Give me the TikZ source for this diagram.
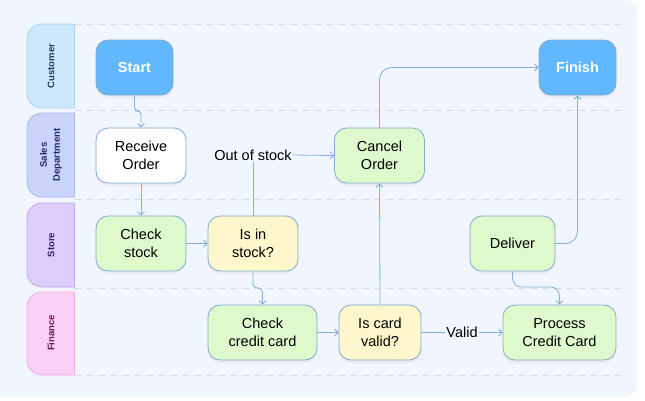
\documentclass[tikz,border=0pt]{standalone}
\usepackage{fontspec}
\setmainfont{Liberation Sans}
\usetikzlibrary{arrows.meta,shadows}
\definecolor{pagebg}{HTML}{F1F5FD}
\definecolor{gridc}{HTML}{D6DDE9}
\definecolor{nodeb}{HTML}{7FAAD3}
\definecolor{edgec}{HTML}{86AEDA}
\definecolor{bluef}{HTML}{62B8FC}
\definecolor{greenf}{HTML}{DEFACC}
\definecolor{yellowf}{HTML}{FDF7CB}
\definecolor{custf}{HTML}{CDE8FB}\definecolor{custb}{HTML}{A3D4F5}\definecolor{custt}{HTML}{1E3A5F}
\definecolor{salesf}{HTML}{CAD4FA}\definecolor{salesb}{HTML}{A8B6F2}\definecolor{salest}{HTML}{1E2B6E}
\definecolor{storef}{HTML}{DCCDFB}\definecolor{storeb}{HTML}{C3A8F3}\definecolor{storet}{HTML}{3B1A6B}
\definecolor{finf}{HTML}{FBD0F6}\definecolor{finb}{HTML}{F2A9E6}\definecolor{fint}{HTML}{6B1A4E}
\begin{document}
\begin{tikzpicture}[x=1pt,y=-1pt,
  box/.style={draw=nodeb, line width=0.8pt, rounded corners=12pt, minimum width=#1pt,
    minimum height=55pt, inner sep=0pt, align=center, text=black,
    font=\fontsize{14.5}{17.5}\selectfont,
    drop shadow={opacity=0.08, shadow xshift=0pt, shadow yshift=-3pt}},
  startbox/.style={box=#1, fill=bluef, text=white, font=\fontsize{14.5}{17}\selectfont\bfseries},
  lanetxt/.style={rotate=90, align=center, font=\fontsize{9.5}{13}\selectfont\bfseries},
  grid/.style={draw=gridc, line width=1pt, dash pattern=on 7pt off 5pt},
  conn/.style={draw=edgec, line width=0.8pt, -{Straight Barb[length=3.5pt,width=7pt]}},
  plain/.style={draw=edgec, line width=0.8pt},
  lbl/.style={font=\fontsize{14.5}{17}\selectfont, inner sep=1pt, fill=pagebg}
]
\useasboundingbox (0,0) rectangle (645,400);
\fill[white] (0,0) rectangle (645,400);
\fill[pagebg, rounded corners=12pt] (-20,0) rectangle (637,397);

% swimlane separators
\foreach \yy in {24,110.5,199,288,375} \draw[grid] (74,\yy) -- (628,\yy);

% lane labels
\begin{scope}
  \clip (0,0) rectangle (74,400);
  \draw[fill=custf, draw=custb, line width=0.8pt, rounded corners=15pt] (27,24) rectangle (110,108);
  \draw[fill=salesf, draw=salesb, line width=0.8pt, rounded corners=15pt] (27,113) rectangle (110,197);
  \draw[fill=storef, draw=storeb, line width=0.8pt, rounded corners=15pt] (27,203) rectangle (110,287);
  \draw[fill=finf, draw=finb, line width=0.8pt, rounded corners=15pt] (27,292) rectangle (110,375);
\end{scope}
\draw[custb, line width=0.8pt] (74,24) -- (74,108);
\draw[salesb, line width=0.8pt] (74,113) -- (74,197);
\draw[storeb, line width=0.8pt] (74,203) -- (74,287);
\draw[finb, line width=0.8pt] (74,292) -- (74,375);
\node[lanetxt, text=custt] (lcust) at (51,66) {Customer};
\node[lanetxt, text=salest] (lsales) at (51,155) {Sales\\Department};
\node[lanetxt, text=storet] (lstore) at (51,245) {Store};
\node[lanetxt, text=fint] (lfin) at (51,333) {Finance};

% nodes
\node[startbox=77] (start) at (134.5,67.5) {Start};
\node[startbox=77] (finish) at (577.5,67.5) {Finish};
\node[box=90, fill=white] (recv) at (141,155.5) {Receive\\Order};
\node[box=90, fill=greenf] (cancel) at (379.5,155.5) {Cancel\\Order};
\node[box=90, fill=greenf] (check) at (141,243.5) {Check\\stock};
\node[box=90, fill=yellowf] (instock) at (253,243.5) {Is in\\stock?};
\node[box=85, fill=greenf] (deliver) at (512.5,243.5) {Deliver};
\node[box=109, fill=greenf] (ccard) at (262.5,332.5) {Check\\credit card};
\node[box=82, fill=yellowf] (valid) at (380,332.5) {Is card\\valid?};
\node[box=113, fill=greenf] (proc) at (559.5,332.5) {Process\\Credit Card};
\node[lbl] (oos) at (253,155) {Out of stock};

% connectors
\draw[conn, rounded corners=4pt] (start.south) -- (134.5,111) -- (141,111) -- (recv.north);
\draw[conn] (recv) -- (check);
\draw[conn] (check) -- (instock);
\draw[plain] (instock.north) -- (oos.south);
\draw[conn] (oos.east) -- (cancel.west);
\draw[conn, rounded corners=4pt] (instock.south) -- (253,288) -- (262.5,288) -- (ccard.north);
\draw[conn] (ccard) -- (valid);
\draw[conn] (valid.north) -- (cancel.south);
\draw[conn] (valid) -- node[lbl] (vl) {Valid} (proc);
\draw[conn, rounded corners=12pt] (cancel.north) |- (finish.west);
\draw[conn, rounded corners=12pt] (deliver.east) -| (finish.south);
\draw[conn, rounded corners=9pt] (deliver.south) -- (512.5,287) -- (559.5,287) -- (proc.north);
\end{tikzpicture}
\end{document}
